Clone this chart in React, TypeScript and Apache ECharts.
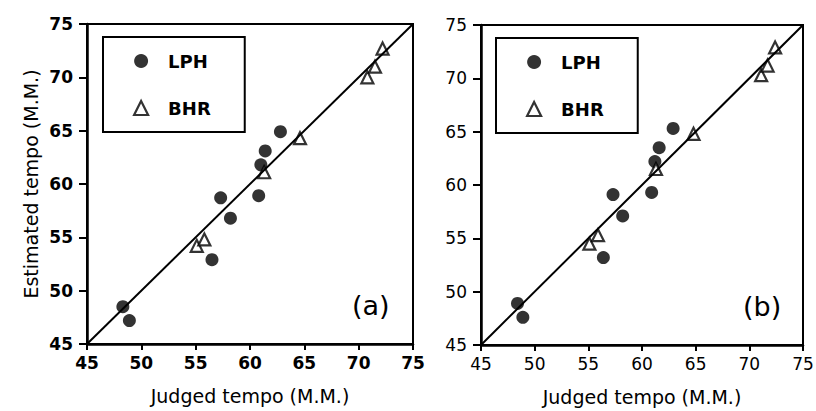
import React, { useEffect, useRef } from "react";
import * as echarts from "echarts";

const AXIS_MIN = 45;
const AXIS_MAX = 75;
const AXIS_STEP = 5;

const lphAX = [48.3, 48.9, 56.5, 57.3, 58.2, 60.8, 61.0, 61.4, 62.8];
const lphAY = [48.5, 47.2, 52.9, 58.7, 56.8, 58.9, 61.8, 63.1, 64.9];
const bhrAX = [55.1, 55.8, 61.3, 64.6, 70.8, 71.5, 72.2];
const bhrAY = [54.2, 54.8, 61.1, 64.3, 70.0, 71.0, 72.7];

const lphBX = [48.4, 48.9, 56.4, 57.3, 58.2, 60.9, 61.2, 61.6, 62.9];
const lphBY = [48.9, 47.6, 53.2, 59.1, 57.1, 59.3, 62.2, 63.5, 65.3];
const bhrBX = [55.1, 55.9, 61.3, 64.8, 71.1, 71.7, 72.4];
const bhrBY = [54.5, 55.3, 61.5, 64.8, 70.3, 71.2, 72.9];

const diagonal = [
  [45, 45],
  [75, 75],
];

const panelLabels = ["(a)", "(b)"];
const xName = "Judged tempo (M.M.)";
const yName = "Estimated tempo (M.M.)";

const zip = (xs: number[], ys: number[]) => xs.map((x, i) => [x, ys[i]]);

export default function App() {
  const ref = useRef<HTMLDivElement>(null);
  useEffect(() => {
    if (!ref.current) return;
    const chart = echarts.init(ref.current, null, { renderer: "svg" });
    const font = "DejaVu Sans";
    const grids = [
      { left: 87, top: 24, width: 326, height: 320 },
      { left: 481, top: 25, width: 322, height: 320 },
    ];
    const mkX = (i: number, bold: boolean) => ({
      type: "value",
      gridIndex: i,
      min: AXIS_MIN,
      max: AXIS_MAX,
      interval: AXIS_STEP,
      name: xName,
      nameLocation: "middle",
      nameGap: 42,
      nameTextStyle: { fontFamily: font, fontSize: 19, color: "#000" },
      splitLine: { show: false },
      axisLine: { lineStyle: { color: "#000", width: 2.5 } },
      axisTick: { inside: false, length: 6, lineStyle: { color: "#000", width: 2 } },
      axisLabel: {
        margin: 10,
        fontFamily: font,
        fontSize: 17,
        fontWeight: bold ? "bold" : "normal",
        color: "#000",
        showMinLabel: true,
        showMaxLabel: true,
      },
    });
    const mkY = (i: number, bold: boolean, withName: boolean) => ({
      type: "value",
      gridIndex: i,
      min: AXIS_MIN,
      max: AXIS_MAX,
      interval: AXIS_STEP,
      name: withName ? yName : "",
      nameLocation: "middle",
      nameRotate: 90,
      nameGap: 47,
      nameTextStyle: { fontFamily: font, fontSize: 19, color: "#000" },
      splitLine: { show: false },
      axisLine: { lineStyle: { color: "#000", width: 2.5 } },
      axisTick: { inside: false, length: 8, lineStyle: { color: "#000", width: 2 } },
      axisLabel: {
        margin: 14,
        fontFamily: font,
        fontSize: 17,
        fontWeight: bold ? "bold" : "normal",
        color: "#000",
        showMinLabel: true,
        showMaxLabel: true,
      },
    });
    const circleStyle = { color: "#000" };
    const triStyle = { color: "#fff", borderColor: "#000", borderWidth: 2.2 };
    const mkLegend = (left: number, top: number) => ({
      orient: "vertical",
      left,
      top,
      backgroundColor: "#fff",
      borderColor: "#000",
      borderWidth: 2,
      borderRadius: 0,
      padding: [15, 34, 15, 30],
      itemWidth: 14,
      itemHeight: 14,
      itemGap: 29,
      selectedMode: false,
      textStyle: {
        fontFamily: font,
        fontSize: 18,
        fontWeight: "bold",
        color: "#000",
        padding: [0, 0, 0, 15],
      },
      data: [
        { name: "LPH", icon: "circle", itemStyle: circleStyle },
        { name: "BHR", icon: "triangle", itemStyle: triStyle },
      ],
    });
    const scatter = (name: string, i: number, data: number[][]) => ({
      name,
      type: "scatter",
      xAxisIndex: i,
      yAxisIndex: i,
      data,
      symbol: name === "LPH" ? "circle" : "triangle",
      symbolSize: name === "LPH" ? 13 : 12,
      itemStyle: name === "LPH" ? circleStyle : triStyle,
      z: 3,
    });
    const line = (i: number) => ({
      name: "fit",
      type: "line",
      xAxisIndex: i,
      yAxisIndex: i,
      data: diagonal,
      symbol: "none",
      lineStyle: { color: "#000", width: 2 },
      z: 4,
      silent: true,
    });
    chart.setOption({
      animation: false,
      backgroundColor: "#fff",
      grid: grids.map((g) => ({
        ...g,
        show: true,
        borderColor: "#000",
        borderWidth: 2,
        backgroundColor: "transparent",
        containLabel: false,
        outerBoundsMode: "none",
      })),
      xAxis: [mkX(0, true), mkX(1, false)],
      yAxis: [mkY(0, true, true), mkY(1, false, false)],
      legend: [mkLegend(103, 37), mkLegend(496, 38)],
      series: [
        scatter("LPH", 0, zip(lphAX, lphAY)),
        scatter("BHR", 0, zip(bhrAX, bhrAY)),
        line(0),
        scatter("LPH", 1, zip(lphBX, lphBY)),
        scatter("BHR", 1, zip(bhrBX, bhrBY)),
        line(1),
      ],
      graphic: [
        {
          type: "text",
          left: 352,
          top: 292,
          style: { text: panelLabels[0], fontFamily: font, fontSize: 27, fill: "#000" },
        },
        {
          type: "text",
          left: 743,
          top: 293,
          style: { text: panelLabels[1], fontFamily: font, fontSize: 27, fill: "#000" },
        },
      ],
    });
    return () => chart.dispose();
  }, []);
  return (
    <div
      ref={ref}
      style={{ position: "fixed", left: 0, top: 0, width: 816, height: 411, background: "#fff" }}
    />
  );
}
